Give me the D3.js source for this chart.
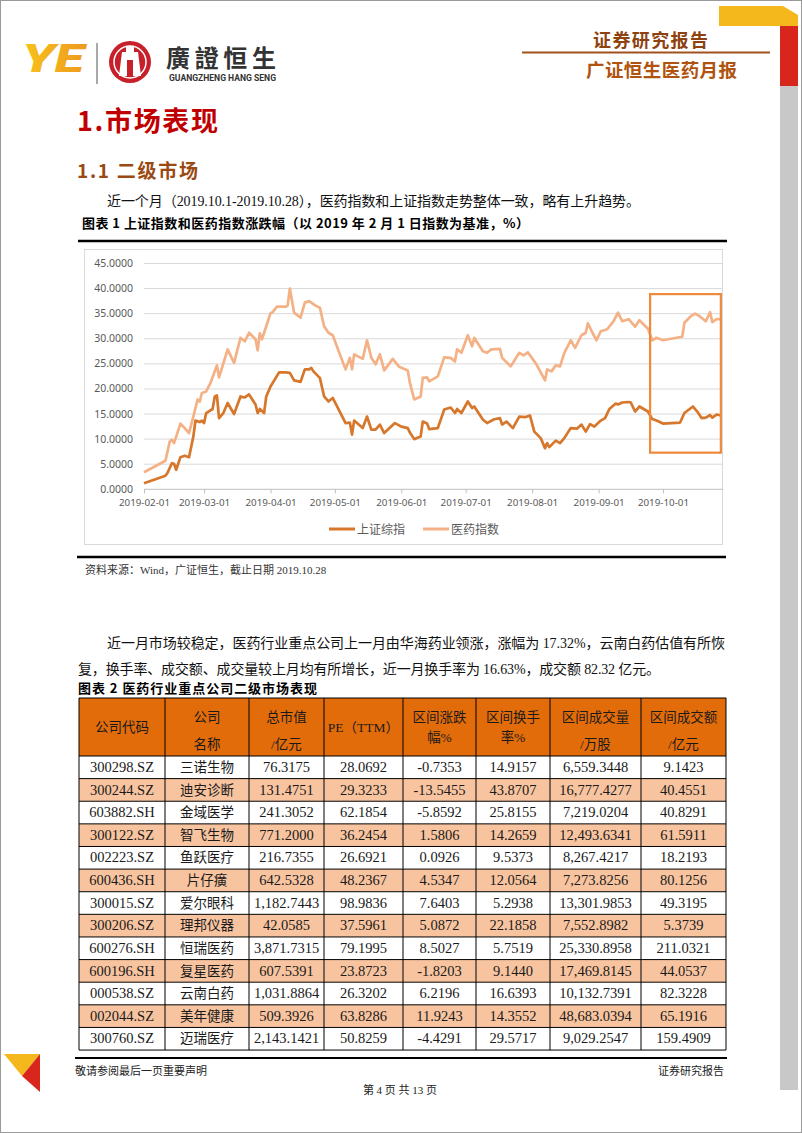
<!DOCTYPE html>
<html><head><meta charset="utf-8">
<script src="https://cdn.jsdelivr.net/npm/d3@7"></script>
<style>
body{margin:0;background:#fff;}
svg{display:block;font-family:"Liberation Serif","Noto Sans CJK SC",serif;}
</style></head><body>
<svg id="page" width="802" height="1133"></svg>
<script>
// 上证综指 / 医药指数, % change vs 2019-02-01
const shIndex = [["2019-02-01",1.2],["2019-02-11",2.7],["2019-02-12",3.3],["2019-02-14",5.2],["2019-02-15",5.1],["2019-02-16",3.9],["2019-02-18",6.4],["2019-02-20",6.7],["2019-02-22",6.4],["2019-02-24",10.5],["2019-02-25",13.7],["2019-02-27",13.4],["2019-02-28",13.7],["2019-03-01",13.2],["2019-03-02",15.2],["2019-03-05",16.0],["2019-03-06",18.5],["2019-03-07",18.7],["2019-03-08",14.2],["2019-03-10",15.2],["2019-03-12",17.2],["2019-03-15",15.0],["2019-03-18",18.5],["2019-03-20",18.3],["2019-03-22",18.9],["2019-03-25",16.9],["2019-03-26",15.2],["2019-03-27",16.0],["2019-03-29",15.2],["2019-03-30",18.5],["2019-04-01",20.5],["2019-04-02",21.2],["2019-04-05",23.3],["2019-04-08",23.3],["2019-04-10",23.2],["2019-04-12",21.7],["2019-04-15",21.4],["2019-04-17",23.9],["2019-04-19",23.9],["2019-04-20",24.2],["2019-04-21",23.5],["2019-04-24",22.2],["2019-04-26",18.5],["2019-04-28",17.5],["2019-04-30",18.2],["2019-05-06",13.2],["2019-05-08",13.3],["2019-05-09",10.9],["2019-05-10",13.7],["2019-05-14",12.2],["2019-05-16",14.5],["2019-05-18",11.9],["2019-05-20",11.9],["2019-05-22",12.9],["2019-05-24",11.2],["2019-05-29",13.2],["2019-06-01",12.5],["2019-06-04",12.2],["2019-06-05",11.3],["2019-06-07",10.0],["2019-06-10",10.5],["2019-06-11",13.5],["2019-06-13",13.1],["2019-06-14",12.0],["2019-06-18",12.2],["2019-06-21",15.9],["2019-06-24",16.3],["2019-06-26",15.2],["2019-06-27",16.0],["2019-06-29",15.2],["2019-07-02",17.5],["2019-07-04",16.2],["2019-07-05",16.5],["2019-07-09",13.9],["2019-07-11",13.2],["2019-07-14",13.9],["2019-07-17",14.2],["2019-07-18",12.9],["2019-07-20",13.5],["2019-07-23",12.2],["2019-07-26",14.5],["2019-07-29",14.4],["2019-07-31",14.7],["2019-08-02",11.5],["2019-08-05",10.2],["2019-08-07",8.2],["2019-08-08",9.2],["2019-08-09",8.4],["2019-08-12",9.7],["2019-08-14",9.2],["2019-08-16",10.2],["2019-08-19",12.2],["2019-08-22",12.1],["2019-08-24",12.9],["2019-08-26",11.5],["2019-08-28",13.0],["2019-08-30",12.5],["2019-09-02",13.7],["2019-09-04",14.2],["2019-09-06",16.0],["2019-09-09",17.1],["2019-09-10",16.9],["2019-09-12",17.3],["2019-09-15",17.4],["2019-09-16",17.3],["2019-09-18",15.5],["2019-09-20",16.5],["2019-09-24",15.5],["2019-09-26",14.0],["2019-09-28",13.7],["2019-10-01",13.1],["2019-10-09",13.3],["2019-10-11",15.2],["2019-10-15",16.5],["2019-10-17",15.5],["2019-10-19",14.2],["2019-10-21",14.3],["2019-10-23",14.8],["2019-10-24",14.3],["2019-10-26",14.9],["2019-10-28",14.7]];

const medIndex = [["2019-02-01",3.4],["2019-02-11",5.7],["2019-02-13",9.5],["2019-02-14",9.9],["2019-02-15",9.2],["2019-02-18",13.1],["2019-02-20",12.2],["2019-02-22",11.2],["2019-02-24",14.5],["2019-02-26",17.9],["2019-02-27",17.5],["2019-02-28",19.2],["2019-03-02",19.5],["2019-03-04",21.2],["2019-03-07",24.7],["2019-03-08",22.3],["2019-03-12",27.9],["2019-03-15",25.2],["2019-03-18",30.2],["2019-03-20",29.5],["2019-03-22",31.2],["2019-03-25",29.9],["2019-03-26",27.7],["2019-03-27",31.1],["2019-03-28",29.9],["2019-03-30",32.5],["2019-04-01",35.1],["2019-04-02",35.3],["2019-04-04",36.4],["2019-04-08",36.4],["2019-04-09",36.6],["2019-04-10",40.0],["2019-04-12",35.2],["2019-04-15",34.2],["2019-04-17",37.2],["2019-04-19",37.5],["2019-04-22",36.6],["2019-04-24",36.2],["2019-04-26",32.5],["2019-04-28",31.2],["2019-04-30",30.7],["2019-05-06",23.9],["2019-05-08",26.2],["2019-05-09",23.9],["2019-05-10",26.9],["2019-05-14",26.0],["2019-05-16",29.7],["2019-05-18",26.2],["2019-05-20",24.9],["2019-05-22",26.9],["2019-05-24",23.7],["2019-05-28",26.0],["2019-05-31",24.4],["2019-06-04",23.7],["2019-06-05",21.2],["2019-06-07",17.9],["2019-06-10",18.5],["2019-06-11",22.2],["2019-06-13",22.3],["2019-06-14",21.5],["2019-06-18",22.5],["2019-06-21",26.3],["2019-06-24",26.2],["2019-06-26",25.5],["2019-06-27",27.9],["2019-06-29",27.2],["2019-07-02",30.7],["2019-07-04",28.5],["2019-07-05",30.2],["2019-07-09",27.5],["2019-07-11",27.2],["2019-07-13",27.9],["2019-07-17",28.0],["2019-07-18",26.2],["2019-07-22",24.5],["2019-07-26",27.2],["2019-07-28",26.7],["2019-07-30",27.3],["2019-08-03",24.9],["2019-08-07",21.7],["2019-08-08",23.9],["2019-08-10",23.5],["2019-08-12",24.7],["2019-08-14",24.5],["2019-08-16",27.2],["2019-08-19",29.7],["2019-08-21",28.2],["2019-08-24",30.7],["2019-08-26",31.2],["2019-08-27",33.1],["2019-08-29",31.3],["2019-08-31",29.7],["2019-09-02",31.5],["2019-09-05",31.9],["2019-09-08",33.5],["2019-09-10",35.2],["2019-09-12",33.5],["2019-09-15",33.9],["2019-09-18",32.4],["2019-09-20",33.7],["2019-09-24",32.0],["2019-09-26",29.7],["2019-09-28",30.2],["2019-10-01",29.7],["2019-10-10",30.4],["2019-10-11",33.2],["2019-10-14",34.5],["2019-10-16",35.0],["2019-10-18",34.5],["2019-10-21",33.5],["2019-10-23",35.3],["2019-10-24",33.3],["2019-10-26",33.9],["2019-10-28",33.9]];

const yTicks = [0,5,10,15,20,25,30,35,40,45];
const xTicks = ["2019-02-01","2019-03-01","2019-04-01","2019-05-01","2019-06-01","2019-07-01","2019-08-01","2019-09-01","2019-10-01"];
const seriesNames = ["上证综指","医药指数"];
const highlightDates = ["2019-09-25","2019-10-28"];
const highlightValues = [7.3, 38.9];

// table 2
const tableHeaders = [["公司代码"],["公司","名称"],["总市值","/亿元"],["PE（TTM）"],["区间涨跌","幅%"],["区间换手","率%"],["区间成交量","/万股"],["区间成交额","/亿元"]];
const codes = ["300298.SZ","300244.SZ","603882.SH","300122.SZ","002223.SZ","600436.SH","300015.SZ","300206.SZ","600276.SH","600196.SH","000538.SZ","002044.SZ","300760.SZ"];
const names = ["三诺生物","迪安诊断","金域医学","智飞生物","鱼跃医疗","片仔癀","爱尔眼科","理邦仪器","恒瑞医药","复星医药","云南白药","美年健康","迈瑞医疗"];
const marketCap = ["76.3175","131.4751","241.3052","771.2000","216.7355","642.5328","1,182.7443","42.0585","3,871.7315","607.5391","1,031.8864","509.3926","2,143.1421"];
const peTTM = ["28.0692","29.3233","62.1854","36.2454","26.6921","48.2367","98.9836","37.5961","79.1995","23.8723","26.3202","63.8286","50.8259"];
const priceChange = ["-0.7353","-13.5455","-5.8592","1.5806","0.0926","4.5347","7.6403","5.0872","8.5027","-1.8203","6.2196","11.9243","-4.4291"];
const turnover = ["14.9157","43.8707","25.8155","14.2659","9.5373","12.0564","5.2938","22.1858","5.7519","9.1440","16.6393","14.3552","29.5717"];
const volume = ["6,559.3448","16,777.4277","7,219.0204","12,493.6341","8,267.4217","7,273.8256","13,301.9853","7,552.8982","25,330.8958","17,469.8145","10,132.7391","48,683.0394","9,029.2547"];
const amount = ["9.1423","40.4551","40.8291","61.5911","18.2193","80.1256","49.3195","5.3739","211.0321","44.0537","82.3228","65.1916","159.4909"];

const svg = d3.select("#page");
const cjk = '"Noto Sans CJK SC", sans-serif';
const parse = d3.timeParse("%Y-%m-%d");

// page frame + decorations
svg.append("rect").attr("x",0.5).attr("y",0.5).attr("width",801).attr("height",1132)
  .attr("fill","#fff").attr("stroke","#9a9a9a");
svg.append("polygon").attr("points","719,6 783,6 798,15 798,26 780,26 772,26 719,26").attr("fill","#F5B81C");
svg.append("rect").attr("x",780).attr("y",26).attr("width",18).attr("height",60).attr("fill","#D9261C");
svg.append("rect").attr("x",780).attr("y",86).attr("width",18).attr("height",1004).attr("fill","#C8C8C8");
svg.append("polygon").attr("points","4,1054 40,1054 22,1076").attr("fill","#F5B81C");
svg.append("polygon").attr("points","40,1054 40,1092 22,1076").attr("fill","#D9261C");

// logo
const defs = svg.append("defs");
const grad = defs.append("linearGradient").attr("id","ye").attr("x1",0).attr("x2",1).attr("y1",0).attr("y2",0);
grad.append("stop").attr("offset","0%").attr("stop-color","#F7C21A");
grad.append("stop").attr("offset","100%").attr("stop-color","#EE9A1E");
svg.append("text").attr("x",22).attr("y",72).attr("font-family","Roboto, sans-serif")
  .attr("font-weight",900).attr("font-style","italic").attr("font-size",38)
  .attr("textLength",62).attr("lengthAdjust","spacingAndGlyphs").attr("fill","url(#ye)").text("YE");
svg.append("line").attr("x1",97).attr("x2",97).attr("y1",43).attr("y2",84).attr("stroke","#555").attr("stroke-width",1);
svg.append("circle").attr("cx",130).attr("cy",62).attr("r",21).attr("fill","#C8202B");
svg.append("circle").attr("cx",130).attr("cy",62).attr("r",16).attr("fill","none").attr("stroke","#fff").attr("stroke-width",1.5);
svg.append("path").attr("d","M126,46 L134,46 L134,52 L138,52 L141,76 L119,76 L122,52 L126,52 Z").attr("fill","#fff");
svg.append("rect").attr("x",127).attr("y",60).attr("width",6).attr("height",16).attr("fill","#C8202B");
svg.append("text").attr("x",166).attr("y",67).attr("font-family",cjk).attr("font-weight",700)
  .attr("font-size",24).attr("textLength",110).attr("fill","#333").text("廣證恒生");
svg.append("text").attr("x",169).attr("y",81).attr("font-family","Roboto, sans-serif").attr("font-weight",700)
  .attr("font-size",8.5).attr("textLength",107).attr("lengthAdjust","spacingAndGlyphs").attr("fill","#333").text("GUANGZHENG HANG SENG");

// right header
svg.append("text").attr("x",593).attr("y",47).attr("font-family",cjk).attr("font-weight",700)
  .attr("font-size",18).attr("textLength",115).attr("fill","#8E420F").text("证券研究报告");
svg.append("line").attr("x1",522).attr("x2",770).attr("y1",52.5).attr("y2",52.5).attr("stroke","#A0521E").attr("stroke-width",2);
svg.append("text").attr("x",586).attr("y",77).attr("font-family",cjk).attr("font-weight",700)
  .attr("font-size",18.5).attr("textLength",151).attr("fill","#B0530F").text("广证恒生医药月报");

// headings and paragraphs
svg.append("text").attr("x",77).attr("y",131).attr("font-family",cjk).attr("font-weight",700)
  .attr("font-size",27).attr("textLength",141).attr("fill","#C00000").text("1.市场表现");
svg.append("text").attr("x",77).attr("y",178).attr("font-family",cjk).attr("font-weight",700)
  .attr("font-size",19).attr("textLength",121).attr("fill","#9A4A12").text("1.1 二级市场");
const para = (x, y, t, len) => {
  const el = svg.append("text").attr("x",x).attr("y",y).attr("font-size",14).attr("fill","#111").text(t);
  if (len) el.attr("textLength",len);
  return el;
};
para(107,206,"近一个月（2019.10.1-2019.10.28），医药指数和上证指数走势整体一致，略有上升趋势。",533);
svg.append("text").attr("x",82).attr("y",228).attr("font-family",cjk).attr("font-weight",700)
  .attr("font-size",13).attr("textLength",447).attr("fill","#000").text("图表 1 上证指数和医药指数涨跌幅（以 2019 年 2 月 1 日指数为基准，%）");
svg.append("line").attr("x1",78).attr("x2",727).attr("y1",241).attr("y2",241).attr("stroke","#000").attr("stroke-width",2.5);

// chart frame
svg.append("rect").attr("x",84.5).attr("y",249.5).attr("width",638).attr("height",295)
  .attr("fill","#fff").attr("stroke","#D9D9D9");

const x = d3.scaleTime().domain([parse("2019-02-01"), parse("2019-10-29")]).range([144, 723]);
const y = d3.scaleLinear().domain([0,45]).range([489.3, 263.5]);
const chart = svg.append("g").attr("font-family",'"Noto Sans", sans-serif');

chart.append("g").selectAll("line").data(yTicks.filter(d => d > 0)).join("line")
  .attr("x1",144).attr("x2",723).attr("y1",d => y(d)).attr("y2",d => y(d))
  .attr("stroke","#D9D9D9").attr("stroke-width",1);
chart.append("g").selectAll("text").data(yTicks).join("text")
  .attr("x",133).attr("y",d => y(d) + 3.5).attr("text-anchor","end")
  .attr("font-size",10.5).attr("fill","#595959").text(d => d3.format(".4f")(d));

const xAxis = chart.append("g").attr("transform",`translate(0,${y(0)})`)
  .call(d3.axisBottom(x).tickValues(xTicks.map(parse)).tickSize(4).tickPadding(6).tickFormat(d3.timeFormat("%Y-%m-%d")));
xAxis.select(".domain").attr("stroke","#BFBFBF").attr("d","M144,0H723");
xAxis.selectAll(".tick line").attr("stroke","#BFBFBF");
xAxis.selectAll(".tick text").attr("fill","#595959").attr("font-size",9.8).attr("font-family",'"Noto Sans", sans-serif');

const line = d3.line().x(d => x(parse(d[0]))).y(d => y(d[1]));
const colors = ["#D6772C","#F4B186"];
chart.append("path").datum(medIndex).attr("d",line).attr("fill","none")
  .attr("stroke",colors[1]).attr("stroke-width",2.7).attr("stroke-linejoin","round");
chart.append("path").datum(shIndex).attr("d",line).attr("fill","none")
  .attr("stroke",colors[0]).attr("stroke-width",2.7).attr("stroke-linejoin","round");

chart.append("rect")
  .attr("x",x(parse(highlightDates[0]))).attr("y",y(highlightValues[1]))
  .attr("width",x(parse(highlightDates[1])) - x(parse(highlightDates[0])))
  .attr("height",y(highlightValues[0]) - y(highlightValues[1]))
  .attr("fill","none").attr("stroke","#EF8A3C").attr("stroke-width",2.2);

const legend = chart.append("g").selectAll("g").data(seriesNames).join("g")
  .attr("transform",(d,i) => `translate(${329 + i*94},529)`);
legend.append("line").attr("x1",0).attr("x2",26).attr("stroke",(d,i) => colors[i]).attr("stroke-width",3);
legend.append("text").attr("x",28).attr("y",4.5).attr("font-family",cjk).attr("font-size",12)
  .attr("fill","#595959").text(d => d);

svg.append("line").attr("x1",77).attr("x2",726).attr("y1",557).attr("y2",557).attr("stroke","#000").attr("stroke-width",2.5);
svg.append("text").attr("x",85).attr("y",574).attr("font-size",11).attr("fill","#333")
  .text("资料来源：Wind，广证恒生，截止日期 2019.10.28");

para(107,648,"近一月市场较稳定，医药行业重点公司上一月由华海药业领涨，涨幅为 17.32%，云南白药估值有所恢",618);
para(78,674,"复，换手率、成交额、成交量较上月均有所增长，近一月换手率为 16.63%，成交额 82.32 亿元。",582);
svg.append("text").attr("x",78).attr("y",693).attr("font-family",cjk).attr("font-weight",700)
  .attr("font-size",13).attr("textLength",239).attr("fill","#000").text("图表 2 医药行业重点公司二级市场表现");

// table
const colEdges = [79,165,249,324,403,476,550,641,726];
const headTop = 698, headH = 58, rowH = 22.62;
const columns = [codes, names, marketCap, peTTM, priceChange, turnover, volume, amount];
const rows = codes.map((c,i) => columns.map(col => col[i]));
const tbl = svg.append("g");
tbl.append("rect").attr("x",colEdges[0]).attr("y",headTop).attr("width",colEdges[8]-colEdges[0]).attr("height",headH).attr("fill","#E36C0A");
tbl.selectAll("rect.row").data(rows).join("rect").attr("class","row")
  .attr("x",colEdges[0]).attr("y",(d,i) => headTop + headH + i*rowH)
  .attr("width",colEdges[8]-colEdges[0]).attr("height",rowH)
  .attr("fill",(d,i) => i % 2 ? "#F8C4A0" : "#fff");

const mid = i => (colEdges[i] + colEdges[i+1]) / 2;
tableHeaders.forEach((h,i) => {
  const ys = h.length === 1 ? [732] : (i === 4 || i === 5 ? [722, 742] : [722, 749]);
  h.forEach((t,k) => {
    tbl.append("text").attr("x",mid(i)).attr("y",ys[k]).attr("text-anchor","middle")
      .attr("font-size",13.5).attr("fill","#1a1a1a").text(t);
  });
});
rows.forEach((r,ri) => {
  r.forEach((v,ci) => {
    tbl.append("text").attr("x",mid(ci)).attr("y",headTop + headH + ri*rowH + 16)
      .attr("text-anchor","middle").attr("font-size",ci === 1 ? 13.5 : 14.5)
      .attr("font-family",ci === 1 ? cjk : '"Liberation Serif", serif')
      .attr("fill","#1a1a1a").text(v);
  });
});
const tableBottom = headTop + headH + rows.length*rowH;
tbl.selectAll("line.v").data(colEdges).join("line").attr("class","v")
  .attr("x1",d => d).attr("x2",d => d).attr("y1",headTop).attr("y2",tableBottom)
  .attr("stroke","#000").attr("stroke-width",1);
tbl.selectAll("line.h").data(d3.range(rows.length + 2)).join("line").attr("class","h")
  .attr("x1",colEdges[0]).attr("x2",colEdges[8])
  .attr("y1",i => i === 0 ? headTop : headTop + headH + (i-1)*rowH)
  .attr("y2",i => i === 0 ? headTop : headTop + headH + (i-1)*rowH)
  .attr("stroke","#000").attr("stroke-width",1);

// footer
svg.append("line").attr("x1",75).attr("x2",727).attr("y1",1058).attr("y2",1058).attr("stroke","#000").attr("stroke-width",2);
svg.append("text").attr("x",75).attr("y",1075).attr("font-size",11).attr("fill","#222").text("敬请参阅最后一页重要声明");
svg.append("text").attr("x",724).attr("y",1075).attr("text-anchor","end").attr("font-size",11).attr("fill","#222").text("证券研究报告");
svg.append("text").attr("x",400).attr("y",1094).attr("text-anchor","middle").attr("font-size",11).attr("fill","#222").text("第 4 页 共 13 页");
</script>
</body></html>
